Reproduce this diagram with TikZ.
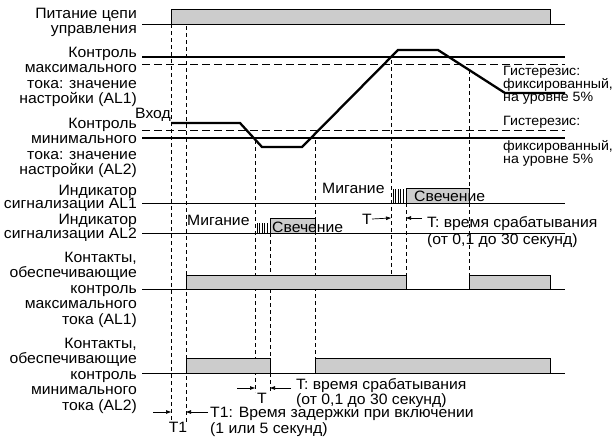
\documentclass[tikz,border=0pt]{standalone}
\usepackage{fontspec}
\setmainfont{Liberation Sans}[FakeStretch=1.05]
\usetikzlibrary{arrows.meta}

\begin{document}
\begin{tikzpicture}[x=1pt, y=-1pt,
  lbl/.style={font=\fontsize{15}{15.4}\selectfont, align=right,
              anchor=north east, inner sep=0pt},
  note/.style={font=\fontsize{15}{15}\selectfont, align=left,
              anchor=north west, inner sep=0pt},
  hnote/.style={font=\fontsize{13.5}{13}\selectfont, align=left,
              anchor=north west, inner sep=0pt},
  word/.style={font=\fontsize{15}{15}\selectfont, inner sep=0pt},
  base/.style={line width=0.8pt},
  lvl/.style={line width=2pt},
  inp/.style={line width=2.3pt, line join=miter},
  hys/.style={line width=0.8pt, dash pattern=on 8pt off 4pt},
  guide/.style={line width=0.7pt, dash pattern=on 4pt off 3pt},
  sig/.style={draw, line width=1pt, fill=black!20},
  flash/.style={line width=0.7pt},
  arr/.style={-{Triangle[length=5pt,width=3.5pt]}, line width=0.7pt}
]
\useasboundingbox (0,0) rectangle (614,442);

% ── Labels on the left ─────────────
\node[lbl] (pwrl) at (137,8) {Питание цепи\\управления};
\node[lbl] (maxl) at (137,47) {Контроль\\максимального\\тока: значение\\настройки (AL1)};
\node[lbl] (minl) at (137,118) {Контроль\\минимального\\тока: значение\\настройки (AL2)};
\node[lbl] (al1l) at (137,185) {Индикатор\\[-2pt]сигнализации AL1};
\node[lbl] (al2l) at (137,214) {Индикатор\\[-1pt]сигнализации AL2};
\node[lbl] (ca1l) at (137,252) {Контакты,\\обеспечивающие\\контроль\\максимального\\тока (AL1)};
\node[lbl] (ca2l) at (137,338) {Контакты,\\обеспечивающие\\контроль\\минимального\\тока (AL2)};
\node[word, anchor=east] (inpl) at (171,115) {Вход};

% ── Guides ─────────────
\draw[guide] (171,24) -- (171,423);
\draw[guide] (186,12) -- (186,423);
\draw[guide] (255,140) -- (255,392);
\draw[guide] (270,233) -- (270,392);
\draw[guide] (315,140) -- (315,358);
\draw[guide] (391,60) -- (391,289);
\draw[guide] (406,203) -- (406,275);
\draw[guide] (469,70) -- (469,275);

% ── Power supply ─────────────
\draw[base] (142,24) -- (565,24);
\draw[sig] (171,24) rectangle (550,9);

% ── Set values and input ─────────────
\draw[lvl] (142,57) -- (565,57);
\draw[hys] (142,64) -- (565,64);
\draw[hys] (142,130) -- (565,130);
\draw[lvl] (142,138) -- (565,138);
\draw[inp] (171,123) -- (240,123) -- (262,147) -- (302,147) -- (398,50)
  -- (438,50) -- (505,93) -- (565,93);
\node[hnote] (hys1) at (503,66) {Гистерезис:\\фиксированный,\\на уровне 5\%};
\node[hnote] (hys2) at (503,116) {Гистерезис:\\[12pt]фиксированный,\\на уровне 5\%};

% ── Alarm indicators ─────────────
\draw[base] (142,203) -- (565,203);
\foreach \i in {0,...,4}
  \draw[flash] (393+2.6*\i,189) -- (393+2.6*\i,203);
\draw[sig] (406,203) rectangle (469,188);
\node[word, anchor=west] (blk1) at (322,188) {Мигание};
\node[word, anchor=west] (lit1) at (414,196) {Свечение};

\draw[base] (142,233) -- (565,233);
\foreach \i in {0,...,4}
  \draw[flash] (257+2.5*\i,223) -- (257+2.5*\i,233);
\draw[sig] (270,233) rectangle (315,218);
\node[word, anchor=west] (blk2) at (187,220) {Мигание};
\node[word, anchor=west] (lit2) at (272,227) {Свечение};

% ── Contacts ─────────────
\draw[base] (142,289) -- (565,289);
\draw[sig] (186,289) rectangle (406,275);
\draw[sig] (469,289) rectangle (550,275);
\draw[base] (142,373) -- (565,373);
\draw[sig] (186,373) rectangle (270,358);
\draw[sig] (315,373) rectangle (550,358);

% ── Time marks ─────────────
\node[word] (ta) at (367,219) {T};
\coordinate (ta1) at (391,218);
\coordinate (ta2) at (406,218);
\coordinate (ta3) at (422,218);
\draw[arr] (ta.east) -- (ta1);
\draw[arr] (ta3) -- (ta2);
\node[note, font=\fontsize{15}{17}\selectfont] (tatxt) at (427,216)
  {T: время срабатывания\\(от 0,1 до 30 секунд)};

\node[word] (tb) at (262,398) {T};
\coordinate (tb0) at (237,388);
\coordinate (tb1) at (255,388);
\coordinate (tb2) at (270,388);
\coordinate (tb3) at (291,388);
\draw[arr] (tb0) -- (tb1);
\draw[arr] (tb3) -- (tb2);
\node[note] (tbtxt) at (296,378)
  {T: время срабатывания\\(от 0,1 до 30 секунд)};

\node[word] (tc) at (178,427) {T1};
\coordinate (tc0) at (153,412);
\coordinate (tc1) at (171,412);
\coordinate (tc2) at (186,412);
\coordinate (tc3) at (208,412);
\draw[arr] (tc0) -- (tc1);
\draw[arr] (tc3) -- (tc2);
\node[note, font=\fontsize{15}{16}\selectfont] (tctxt) at (210,407)
  {T1: Время задержки при включении\\(1 или 5 секунд)};
\end{tikzpicture}
\end{document}
